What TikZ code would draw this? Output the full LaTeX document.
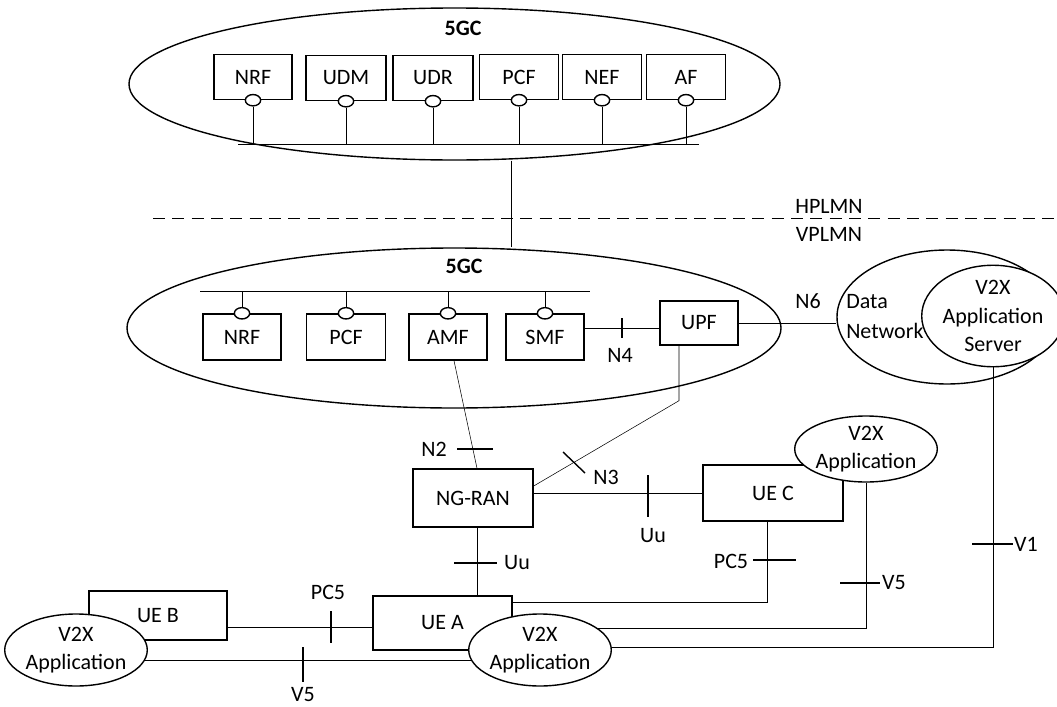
\documentclass[tikz,border=0pt]{standalone}
\usepackage{fontspec}
\setmainfont{Carlito}
\usetikzlibrary{shapes.geometric,backgrounds,calc}
\begin{document}
\begin{tikzpicture}[x=0.75pt,y=-0.75pt,
  every node/.style={font=\fontsize{16.5}{20}\selectfont},
  ln/.style={line width=1.05pt},
  bx/.style 2 args={draw, line width=1.05pt, rectangle, minimum width=#1*0.75pt, minimum height=#2*0.75pt, inner sep=0pt},
  el/.style 2 args={draw, line width=1.05pt, ellipse, minimum width=#1*0.75pt, minimum height=#2*0.75pt, inner sep=0pt, align=center, font=\fontsize{16.5}{21.5}\selectfont},
  wel/.style 2 args={el={#1}{#2}, fill=white},
  sm/.style={draw, line width=1.05pt, ellipse, fill=white, minimum width=11.5pt, minimum height=8.5pt, inner sep=0pt},
  lbl/.style={inner sep=0pt},
  bold/.style={inner sep=0pt, font=\fontsize{16.5}{20}\selectfont\bfseries},
  tk/.style={line width=1.05pt},
]
\useasboundingbox (0,0) rectangle (1057,707);

% ---------- HPLMN 5GC ----------
\node[el={651}{152}] (top) at (454.5,84) {};
\node[bold] (t5gc) at (463,28) {5GC};
\node[bx={78}{45}] (tnrf) at (253,77) {NRF};
\node[bx={80}{45}] (tudm) at (346,78) {UDM};
\node[bx={80}{45}] (tudr) at (433,78) {UDR};
\node[bx={79}{45}] (tpcf) at (519,77) {PCF};
\node[bx={79}{45}] (tnef) at (602,77) {NEF};
\node[bx={79}{45}] (taf) at (686,77) {AF};
\foreach \b/\c in {tnrf/tc1,tudm/tc2,tudr/tc3,tpcf/tc4,tnef/tc5,taf/tc6}{
  \node[sm] (\c) at (\b.south) {};
}
\coordinate (tbusL) at (238,144);
\coordinate (tbusR) at (699,144);

% ---------- PLMN boundary ----------
\coordinate (dl) at (153,218);
\coordinate (dr) at (1057,218);
\node[lbl] (hplmn) at (829,206) {HPLMN};
\node[lbl] (vplmn) at (829,234) {VPLMN};

% ---------- VPLMN 5GC ----------
\node[el={654}{160}] (bot) at (454,328) {};
\node[bold] (b5gc) at (464,266) {5GC};
\node[bx={78}{46}] (bnrf) at (242,337) {NRF};
\node[bx={79}{46}] (bpcf) at (346,337) {PCF};
\node[bx={78}{46}] (amf) at (448,337) {AMF};
\node[bx={78}{46}] (smf) at (545,337) {SMF};
\node[bx={78}{44}] (upf) at (699,323) {UPF};
\foreach \b/\c in {bnrf/bc1,bpcf/bc2,amf/bc3,smf/bc4}{
  \node[sm] (\c) at (\b.north) {};
}
\coordinate (bbusL) at (200,291);
\coordinate (bbusR) at (590,291);
\coordinate (n4y) at (0,328);
\node[lbl] (n4) at (620,355) {N4};
\node[lbl] (n6) at (808,301) {N6};

% ---------- Data network ----------
\node[el={220}{134}] (dn) at (947,317) {};
\node[lbl, align=left, anchor=west, font=\fontsize{16.5}{22.5}\selectfont] (dntext) at (846,317) {Data\\Network};
\node[wel={125}{95}] (srv) at (993,316) {V2X\\Application\\Server};

% ---------- RAN and UEs ----------
\node[bx={120}{58}] (ran) at (473,498) {NG-RAN};
\node[lbl] (n2) at (434,449) {N2};
\node[lbl] (n3) at (606,477) {N3};
\node[bx={140}{56}] (uec) at (773,493) {UE C};
\node[wel={136}{66}] (appc) at (866,449) {V2X\\Application};
\node[lbl] (uu1) at (653,536) {Uu};
\node[bx={139}{54}] (uea) at (442.5,623) {UE A};
\node[wel={136}{72}] (appa) at (540,650) {V2X\\Application};
\node[lbl] (uu2) at (517,563) {Uu};
\node[lbl] (pc5r) at (731,561) {PC5};
\node[lbl] (v5r) at (894,583) {V5};
\node[lbl] (v1) at (1026,544) {V1};
\node[bx={138}{49}] (ueb) at (158,615.5) {UE B};
\node[wel={134}{72}] (appb) at (76,650) {V2X\\Application};
\node[lbl] (pc5l) at (328,592) {PC5};
\node[lbl] (v5l) at (303,695) {V5};

\coordinate (amfb) at ($(amf.south)+(6,0)$);
\coordinate (rant) at ($(ran.north)+(4,0)$);
\coordinate (ranb) at ($(ran.south)+(4,0)$);
\coordinate (upfb) at ($(upf.south)+(-20,0)$);
\coordinate (uecb) at ($(uec.south)+(-6,0)$);
\coordinate (pc5ry) at (0,602);
\coordinate (pc5ly) at (0,627);
\coordinate (vlink) at (511,0);

% ---------- connectors (under the nodes) ----------
\begin{scope}[on background layer, ln]
  \draw (tbusL) -- (tbusR);
  \foreach \c in {tc1,tc2,tc3,tc4,tc5,tc6}{ \draw (\c.south) -- (\c.south |- tbusL); }
  \draw[dash pattern=on 9pt off 5.5pt] (dl) -- (dr);
  \draw (top.south -| vlink) -- (bot.north -| vlink);
  \draw (bbusL) -- (bbusR);
  \foreach \c in {bc1,bc2,bc3,bc4}{ \draw (\c.north) -- (\c.north |- bbusL); }
  \draw (smf.east |- n4y) -- (upf.west |- n4y);
  \draw (upf.east) -- (upf.east -| dn.west);
  \draw (amfb) -- (rant);
  \draw (upfb) -- ++(0,55) -- ($(ran.east)+(0,-12)$);
  \draw (ran.east |- uec.west) -- (uec.west);
  \draw (ranb) -- (ranb |- uea.north);
  \draw (uea.east |- pc5ry) -| (uecb);
  \draw ($(appa.center)+(0,-22)$) -| (appc.south);
  \draw ($(appa.center)+(0,-3)$) -| (srv.south);
  \draw (ueb.east |- pc5ly) -- (uea.west |- pc5ly);
  \draw ($(appb.center)+(0,10)$) -- ($(appa.center)+(0,10)$);
\end{scope}

% ---------- interface ticks ----------
\begin{scope}[tk]
  \draw (622,318) -- (622,338);   % N4
  \draw (457,449) -- (493,449);   % N2
  \draw (563,452) -- (585,473);   % N3
  \draw (648,475) -- (648,517);   % Uu
  \draw (454,563) -- (497,563);   % Uu
  \draw (753,560) -- (796,560);   % PC5
  \draw (840,583) -- (880,583);   % V5
  \draw (972,544) -- (1013,544);  % V1
  \draw (331,611) -- (331,643);   % PC5
  \draw (303,647) -- (303,682);   % V5
\end{scope}
\end{tikzpicture}
\end{document}
